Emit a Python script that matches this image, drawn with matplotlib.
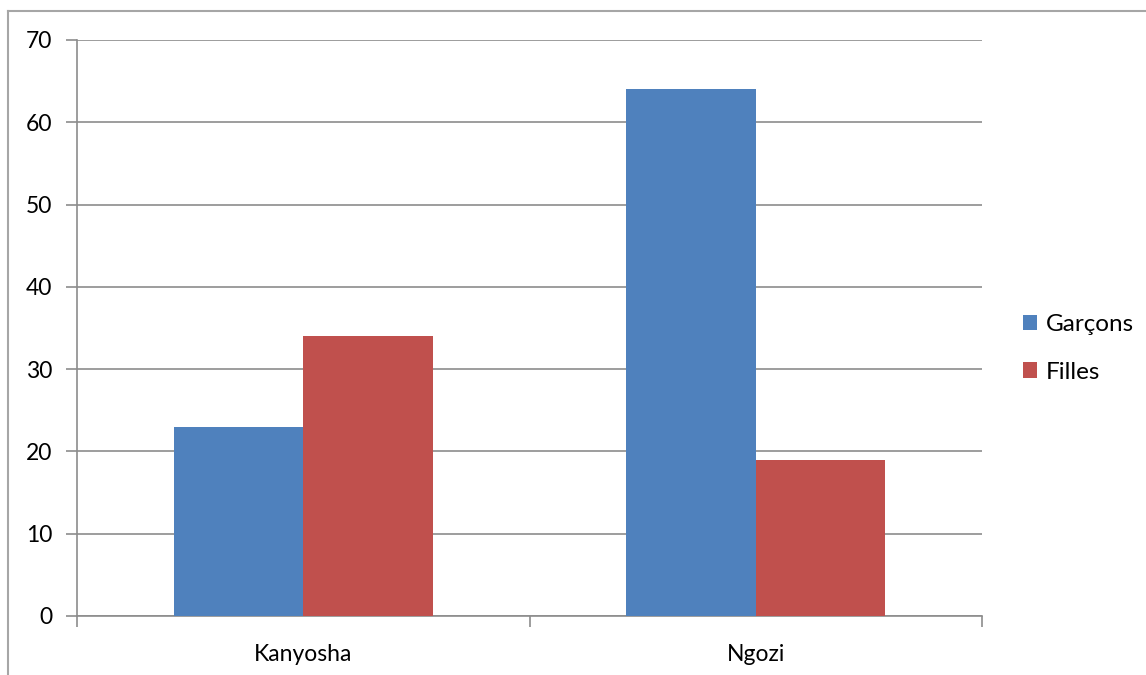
import numpy as np
import matplotlib.pyplot as plt
from matplotlib.lines import Line2D

# données
categories = ['Kanyosha', 'Ngozi']
garcons = [23, 64]
filles = [34, 19]
series = ['Garçons', 'Filles']
couleurs = ['#4F81BD', '#C0504D']

plt.rcParams['font.family'] = ['Lato', 'DejaVu Sans']

fig = plt.figure(figsize=(11.46, 6.75), dpi=100)
ax = fig.add_axes([77/1146, 1-616/675, (982-77)/1146, (616-40)/675])

x = np.arange(len(categories))
w = 1/3.5
ax.bar(x - w/2, garcons, w, color=couleurs[0], label=series[0], zorder=3)
ax.bar(x + w/2, filles, w, color=couleurs[1], label=series[1], zorder=3)

ax.set_xlim(-0.5, len(categories) - 0.5)
ax.set_ylim(0, 70)
ax.set_yticks(np.arange(0, 71, 10))
ax.yaxis.grid(True, color='#8c8c8c', linewidth=1.2, zorder=0)

# graduations de l'axe x entre les catégories
ax.set_xticks(x)
ax.set_xticklabels(categories)
ax.tick_params(axis='x', length=0, labelsize=16.5, pad=20)
ax.set_xticks(np.arange(-0.5, len(categories)), minor=True)
ax.tick_params(axis='x', which='minor', length=8, width=1.2, color='#8c8c8c')
ax.tick_params(axis='y', length=8, width=1.2, color='#8c8c8c', labelsize=16.5, pad=10)

for s in ['top', 'right']:
    ax.spines[s].set_visible(False)
for s in ['left', 'bottom']:
    ax.spines[s].set_color('#8c8c8c')
    ax.spines[s].set_linewidth(1.2)

ax.legend(loc='center left', bbox_to_anchor=(1.045, 0.465), frameon=False,
          fontsize=17.5, handlelength=0.6, handleheight=0.6, labelspacing=1.1,
          handletextpad=0.35, borderpad=0, borderaxespad=0)

# cadre extérieur du graphique (coupé par l'image)
fig.add_artist(Line2D([8/1146, 8/1146], [0, 1-11/675], color='#a6a6a6', linewidth=1.5))
fig.add_artist(Line2D([8/1146, 1], [1-11/675, 1-11/675], color='#a6a6a6', linewidth=1.5))

fig.savefig('out.png', dpi=100)
